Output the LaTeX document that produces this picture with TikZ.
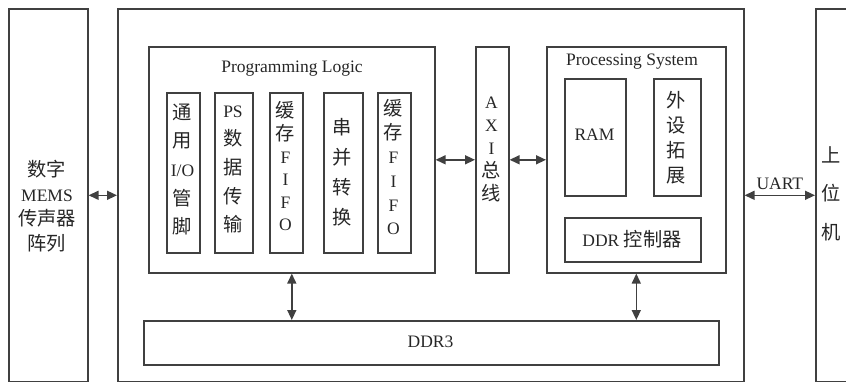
\documentclass[tikz,border=0pt]{standalone}
\usepackage{fontspec}
\setmainfont{Liberation Serif}
\newfontfamily\cjk{Noto Sans CJK SC}[Scale=1.1]
\newcommand{\zh}[1]{{\cjk #1}}
\usetikzlibrary{arrows.meta}
\definecolor{trait}{gray}{0.25}

\tikzset{
  bloc/.style={draw=trait, line width=1.6pt, inner sep=0pt, anchor=north west},
  fleche/.style={draw=trait, line width=1.5pt, {Triangle[length=10pt,width=9pt]}-{Triangle[length=10pt,width=9pt]}},
  colonne/.style={align=center, inner sep=0pt, text=black!85, font=\fontsize{17.5}{#1}\selectfont},
  titre/.style={inner sep=0pt, text=black!85, font=\fontsize{17.5}{20}\selectfont},
}

\begin{document}
\begin{tikzpicture}[x=1pt, y=-1pt]
\useasboundingbox (0,0) rectangle (846,382);
\clip (0,0) rectangle (846,382);

% Les blocs extérieurs
\node[bloc, minimum width=79pt, minimum height=373pt] (micro) at (8,8) {};
\node[bloc, minimum width=626pt, minimum height=373pt] (fpga) at (117,8) {};
\node[bloc, minimum width=50pt, minimum height=373pt] (hote) at (815,8) {};

\node[colonne=24.5] (microtxt) at (47,206) {\zh{数字}\\MEMS\\\zh{传声器}\\\zh{阵列}};
\node[colonne=38.5] (hotetxt) at (831,193.5) {\zh{上}\\\zh{位}\\\zh{机}};

% Programming Logic
\node[bloc, minimum width=286pt, minimum height=226pt] (pl) at (148,46) {};
\node[titre] (pltitre) at (292,69) {Programming Logic};

\node[bloc, minimum width=33pt, minimum height=160pt] (io) at (166,92) {};
\node[bloc, minimum width=38pt, minimum height=160pt] (psdata) at (214,92) {};
\node[bloc, minimum width=33pt, minimum height=160pt] (fifoa) at (269,92) {};
\node[bloc, minimum width=39pt, minimum height=160pt] (conv) at (323,92) {};
\node[bloc, minimum width=33pt, minimum height=160pt] (fifob) at (377,92) {};

\node[colonne=28.7] (iotxt) at (182.5,169.5) {\zh{通}\\\zh{用}\\I/O\\\zh{管}\\\zh{脚}};
\node[colonne=28.7] (psdatatxt) at (233,169.5) {PS\\\zh{数}\\\zh{据}\\\zh{传}\\\zh{输}};
\node[colonne=22.6] (fifoatxt) at (285.5,166.5) {\zh{缓}\\\zh{存}\\F\\I\\F\\O};
\node[colonne=30] (convtxt) at (342.5,172) {\zh{串}\\\zh{并}\\\zh{转}\\\zh{换}};
\node[colonne=23.8] (fifobtxt) at (393.5,167.5) {\zh{缓}\\\zh{存}\\F\\I\\F\\O};

% Bus AXI
\node[bloc, minimum width=33pt, minimum height=226pt] (axi) at (475,46) {};
\node[colonne=23] (axitxt) at (491.5,149) {A\\X\\I\\\zh{总}\\\zh{线}};

% Processing System
\node[bloc, minimum width=179pt, minimum height=226pt] (ps) at (546,46) {};
\node[titre] (pstitre) at (632,62) {Processing System};

\node[bloc, minimum width=61pt, minimum height=117pt] (ram) at (564,78) {};
\node[bloc, minimum width=47pt, minimum height=117pt] (ext) at (653,78) {};
\node[bloc, minimum width=136pt, minimum height=44pt] (ddrc) at (564,217) {};

\node[colonne=20] (ramtxt) at (594.5,135) {RAM};
\node[colonne=25] (exttxt) at (676.5,137.5) {\zh{外}\\\zh{设}\\\zh{拓}\\\zh{展}};
\node[colonne=20] (ddrctxt) at (632,239) {DDR \zh{控制器}};

% Mémoire DDR3
\node[bloc, minimum width=575pt, minimum height=44pt] (ddr) at (143,320) {};
\node[colonne=20] (ddrtxt) at (430.5,342) {DDR3};

% Les liaisons
\draw[fleche] (micro.east) -- (fpga.west);
\draw[fleche] (pl.east) -- (axi.west);
\draw[fleche] (axi.east) -- (ps.west);
\draw[fleche] (pl.south) -- (pl.south |- ddr.north);
\draw[fleche] (ps.south) -- (ps.south |- ddr.north);
\draw[fleche] (fpga.east) -- node[above=5pt, colonne=20] (uart) {UART} (hote.west);

\end{tikzpicture}
\end{document}
